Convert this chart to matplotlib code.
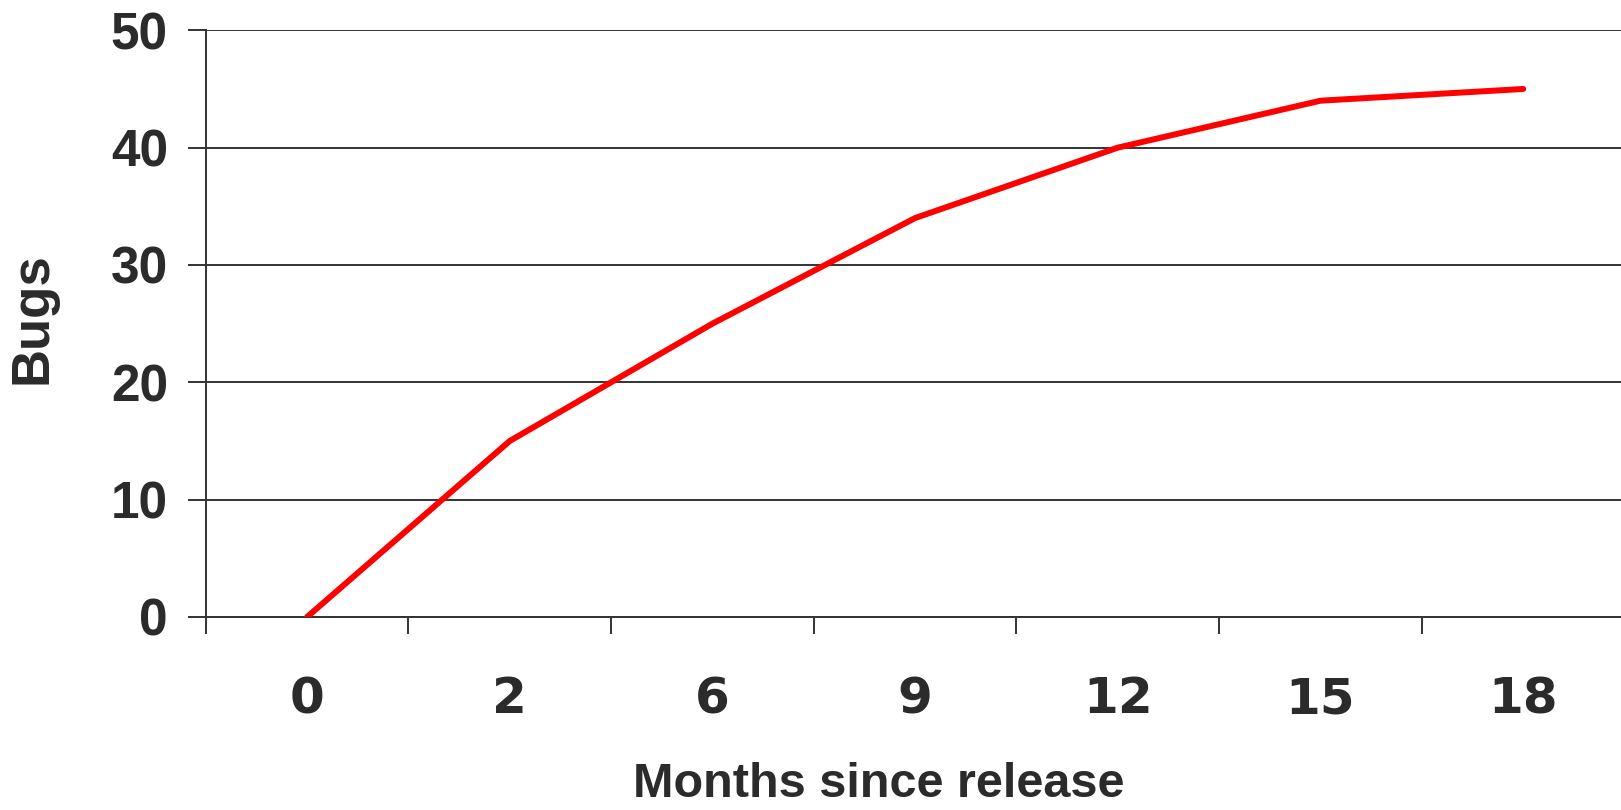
import matplotlib
matplotlib.use("Agg")
import matplotlib.pyplot as plt
from matplotlib.ticker import FixedLocator, NullFormatter, FixedFormatter

# cumulative bugs reported after each release milestone
months = ["0", "2", "6", "9", "12", "15", "18"]
bugs = [0, 15, 25, 34, 40, 44, 45]
y_ticks = [0, 10, 20, 30, 40, 50]

INK = "#2b2b2b"
AXIS = "#333333"

plt.rcParams["font.family"] = ["Liberation Sans", "DejaVu Sans"]
plt.rcParams["font.weight"] = "bold"

fig = plt.figure(figsize=(16.21, 8.10), dpi=100)
ax = fig.add_axes([0.1269, 0.2383, 0.8753, 0.7243])

pos = list(range(len(months)))
ax.plot(pos, bugs, color="#ff0000", lw=4.3, solid_capstyle="round",
        solid_joinstyle="round", zorder=3)

ax.set_xlim(-0.5, len(months) - 0.5)
ax.set_ylim(0, 50)

# category boundaries get the tick marks, centres carry the labels
ax.xaxis.set_major_locator(FixedLocator([p - 0.5 for p in pos]))
ax.xaxis.set_major_formatter(NullFormatter())
ax.xaxis.set_minor_locator(FixedLocator(pos))
ax.xaxis.set_minor_formatter(FixedFormatter(months))
ax.tick_params(axis="x", which="major", direction="out", length=12.2,
               width=1.4, color=AXIS)
ax.tick_params(axis="x", which="minor", length=0, pad=42,
               labelsize=36, labelcolor=INK)
for lbl in ax.get_xticklabels(minor=True):
    lbl.set_family(["DejaVu Sans"])

ax.set_yticks(y_ticks)
ax.tick_params(axis="y", direction="out", length=13, width=1.4, color=AXIS,
               pad=14.2, labelsize=37, labelcolor=INK)

ax.yaxis.grid(True, color=AXIS, lw=1.4)
ax.set_axisbelow(True)

for side in ("top", "right"):
    ax.spines[side].set_visible(False)
for side in ("left", "bottom"):
    ax.spines[side].set_color(AXIS)
    ax.spines[side].set_linewidth(1.4)

ax.set_xlabel("Months since release", fontsize=35, fontweight="bold",
              color=INK, va="baseline")
ax.xaxis.set_label_coords(0.4745, -0.306)
ax.set_ylabel("Bugs", fontsize=38, fontweight="bold", color=INK, va="center")
ax.yaxis.set_label_coords(-0.1224, 0.51)

fig.savefig("out.png", dpi=100)
